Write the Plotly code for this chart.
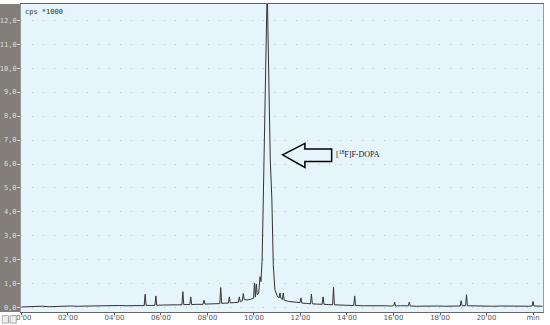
import plotly.graph_objects as go

# retention time (min) and detector signal (cps * 1000)
time_min = [0.0, 0.3, 0.6, 0.9, 1.2, 1.5, 1.8, 2.1, 2.4, 2.7, 3.0, 3.3, 3.6, 3.9, 4.2, 4.5, 4.8, 5.1,
            5.28, 5.32, 5.36, 5.55, 5.74, 5.78, 5.82, 6.1, 6.4, 6.7, 6.90, 6.94, 6.98, 7.1, 7.24, 7.28,
            7.32, 7.55, 7.81, 7.85, 7.89, 8.2, 8.53, 8.57, 8.61, 8.75, 8.90, 8.94, 8.98, 9.15, 9.33,
            9.37, 9.41, 9.50, 9.54, 9.58, 9.7, 9.85, 9.98, 10.02, 10.06, 10.1, 10.14, 10.2, 10.26,
            10.3, 10.35, 10.40, 10.45, 10.50, 10.54, 10.57, 10.60, 10.64, 10.70, 10.77, 10.83, 10.90,
            11.0, 11.08, 11.12, 11.16, 11.22, 11.26, 11.3, 11.5, 11.75, 11.98, 12.02, 12.06, 12.25,
            12.43, 12.47, 12.51, 12.7, 12.93, 12.97, 13.01, 13.2, 13.38, 13.42, 13.46, 13.7, 14.0,
            14.29, 14.33, 14.37, 14.7, 15.0, 15.3, 15.6, 15.9, 16.01, 16.05, 16.09, 16.3, 16.5, 16.64,
            16.68, 16.72, 17.0, 17.3, 17.6, 17.9, 18.2, 18.5, 18.87, 18.91, 18.95, 19.1, 19.14, 19.18,
            19.4, 19.7, 20.0, 20.3, 20.6, 20.9, 21.2, 21.5, 21.8, 21.96, 22.0, 22.04, 22.4]
cps = [0.04, 0.06, 0.05, 0.07, 0.05, 0.07, 0.06, 0.08, 0.07, 0.08, 0.07, 0.09, 0.10, 0.09, 0.10, 0.09, 0.10, 0.09,
       0.10, 0.57, 0.11, 0.10, 0.11, 0.50, 0.11, 0.12, 0.11, 0.13, 0.13, 0.68, 0.14, 0.13, 0.14, 0.46,
       0.14, 0.15, 0.15, 0.32, 0.16, 0.17, 0.18, 0.85, 0.19, 0.20, 0.20, 0.46, 0.21, 0.22, 0.24,
       0.46, 0.26, 0.30, 0.60, 0.35, 0.33, 0.36, 0.40, 1.04, 0.45, 1.00, 0.55, 0.60, 1.30,
       1.10, 2.00, 4.50, 7.00, 8.70, 11.60, 13.50, 11.60, 8.70, 6.20, 4.50, 1.80, 0.75,
       0.50, 0.42, 0.62, 0.40, 0.35, 0.62, 0.32, 0.27, 0.24, 0.22, 0.42, 0.20, 0.19,
       0.17, 0.58, 0.17, 0.16, 0.15, 0.46, 0.15, 0.14, 0.13, 0.85, 0.13, 0.12, 0.11,
       0.10, 0.50, 0.10, 0.09, 0.10, 0.08, 0.09, 0.08, 0.09, 0.24, 0.08, 0.09, 0.08, 0.09,
       0.24, 0.08, 0.07, 0.08, 0.07, 0.08, 0.07, 0.08, 0.08, 0.30, 0.09, 0.09, 0.55, 0.09,
       0.08, 0.07, 0.08, 0.07, 0.08, 0.07, 0.08, 0.07, 0.07, 0.08, 0.27, 0.08, 0.07]

x_ticks = [0, 2, 4, 6, 8, 10, 12, 14, 16, 18, 20, 22]
x_labels = ["00'00", "02'00", "04'00", "06'00", "08'00", "10'00", "12'00", "14'00",
            "16'00", "18'00", "20'00", "min"]
y_ticks = [0, 1, 2, 3, 4, 5, 6, 7, 8, 9, 10, 11, 12]

peak_label = "[<sup>18</sup>F]F-DOPA"

fig = go.Figure()
fig.add_trace(go.Scatter(x=time_min, y=cps, mode="lines",
                         line=dict(color="#333333", width=1), showlegend=False))

# hollow block arrow pointing at the main peak (data coordinates)
tip_x, tip_y = 11.23, 6.38
head_x, shaft_end = 12.19, 13.34
arrow_path = (f"M {tip_x},{tip_y} L {head_x},6.86 L {head_x},6.62 L {shaft_end},6.62 "
              f"L {shaft_end},6.10 L {head_x},6.10 L {head_x},5.86 Z")
fig.add_shape(type="path", path=arrow_path, xref="x", yref="y",
              line=dict(color="black", width=1.5), fillcolor="rgba(0,0,0,0)")
fig.add_annotation(x=shaft_end + 0.08, y=6.4, text=peak_label, showarrow=False,
                   xanchor="left", font=dict(family="Liberation Serif", size=8, color="#222"))

# gray panel on the left holding the y labels
fig.add_shape(type="rect", xref="paper", yref="paper", x0=-0.042, x1=0, y0=0, y1=1,
              fillcolor="#827d78", line_width=0, layer="below")
# two little scroll buttons at the bottom left
for bx in [-0.036, -0.021]:
    fig.add_shape(type="rect", xref="paper", yref="paper", x0=bx, x1=bx + 0.012,
                  y0=-0.036, y1=-0.012, fillcolor="#eeeeee", line=dict(color="#aaaaaa", width=1))

fig.add_annotation(x=0.004, y=0.995, xref="paper", yref="paper", text="cps *1000",
                   showarrow=False, xanchor="left", yanchor="top",
                   font=dict(family="DejaVu Sans Mono", size=7, color="#333"))

fig.update_layout(
    width=550, height=325,
    margin=dict(l=21, r=7, t=4, b=13, autoexpand=False),
    paper_bgcolor="white",
    plot_bgcolor="#e6f4fb",
    separators=",.",
)
fig.update_xaxes(range=[-0.02, 22.43], tickvals=x_ticks, ticktext=x_labels,
                 ticks="outside", ticklen=2, tickcolor="#555", automargin=False,
                 ticklabelstandoff=-3,
                 tickfont=dict(family="DejaVu Sans", size=7, color="#555"),
                 showgrid=False, zeroline=False, showline=True, linecolor="#666",
                 mirror=True)
fig.update_yaxes(range=[-0.17, 12.67], tickvals=y_ticks, tickformat=".1f",
                 ticks="outside", ticklen=3, tickcolor="#dddddd", automargin=False,
                 ticklabelstandoff=-1,
                 tickfont=dict(family="DejaVu Sans Mono", size=7, color="#dddddd"),
                 showgrid=True, gridcolor="#b9c6cf", griddash="1px,10px", gridwidth=1,
                 zeroline=False, showline=True, linecolor="#999", mirror=True)

# drop the default page margin so the figure sits at the window's corner
fig.write_html("out.html", config={"displayModeBar": False},
               post_script="document.body.style.margin='0px';")
